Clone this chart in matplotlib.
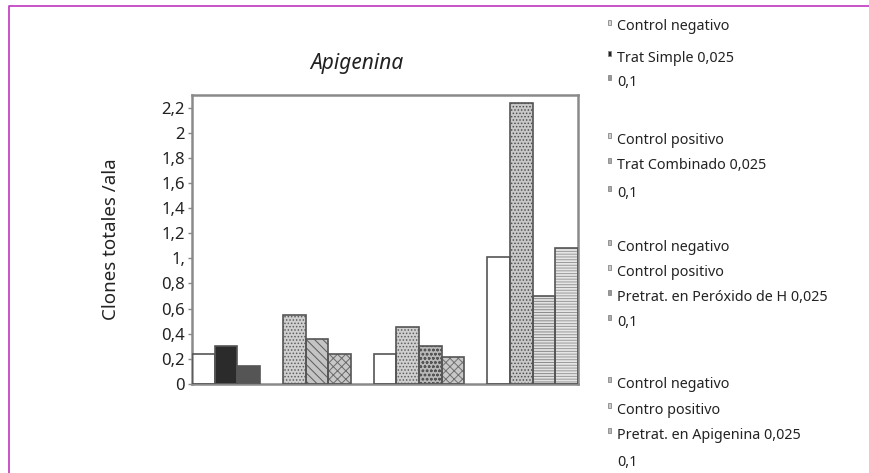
import matplotlib
matplotlib.use("Agg")
import matplotlib.pyplot as plt

plt.rcParams['font.family'] = ['Noto Sans', 'DejaVu Sans']
plt.rcParams['hatch.linewidth'] = 0.7

# Clones totales por ala, por grupo de tratamiento
trat_simple = [0.24, 0.30, 0.145]
trat_combinado = [0.55, 0.36, 0.24]
pretrat_peroxido = [0.24, 0.45, 0.30, 0.215]
pretrat_apigenina = [1.01, 2.24, 0.70, 1.08]

legend_labels = [
    "Control negativo", "Trat Simple 0,025", "0,1",
    "Control positivo", "Trat Combinado 0,025", "0,1",
    "Control negativo", "Control positivo", "Pretrat. en Peróxido de H 0,025", "0,1",
    "Control negativo", "Contro positivo", "Pretrat. en Apigenina 0,025", "0,1",
]

ytick_values = [0, 0.2, 0.4, 0.6, 0.8, 1.0, 1.2, 1.4, 1.6, 1.8, 2.0, 2.2]
ytick_labels = ["0", "0,2", "0,4", "0,6", "0,8", "1,", "1,2", "1,4", "1,6", "1,8", "2", "2,2"]

# fill styles: (facecolor, hatch, hatch colour)
styles = [
    ("white", None, None), ("#2b2b2b", None, None), ("#555555", None, None),
    ("#cfcfcf", ".....", "#5e5e5e"), ("#c4c4c4", "\\\\\\\\", "#5a5a5a"), ("#c8c8c8", "xxxx", "#6a6a6a"),
    ("white", None, None), ("#cfcfcf", ".....", "#5e5e5e"), ("#b8b8b8", "oooo", "#555555"), ("#c8c8c8", "xxxx", "#707070"),
    ("white", None, None), ("#c8c8c8", ".....", "#4e4e4e"), ("#e2e2e2", "------", "#8a8a8a"), ("#e6e6e6", "------", "#9a9a9a"),
]
marker_styles = ["#d8d8d8", "#222222", "#999999", "#d0d0d0", "#aaaaaa", "#aaaaaa",
                 "#bbbbbb", "#cccccc", "#999999", "#aaaaaa", "#bbbbbb", "#cccccc", "#bbbbbb", None]

groups = [trat_simple, trat_combinado, pretrat_peroxido, pretrat_apigenina]

fig = plt.figure(figsize=(8.69, 4.73), dpi=100)
ax = fig.add_axes([192 / 869, 1 - 384 / 473, (578 - 192) / 869, (384 - 95) / 473])

x = []
values = []
pos = 0
for g in groups:
    for v in g:
        x.append(pos)
        values.append(v)
        pos += 1
    pos += 1

edge = "#555555"
for xi, v, (fc, hatch, hc) in zip(x, values, styles):
    if hatch:
        ax.bar(xi, v, width=1.0, color=fc, hatch=hatch, edgecolor=hc, linewidth=0, zorder=2)
    else:
        ax.bar(xi, v, width=1.0, color=fc, linewidth=0, zorder=2)
    ax.bar(xi, v, width=1.0, fill=False, edgecolor=edge, linewidth=1.2, zorder=3)

ax.set_xlim(-0.5, x[-1] + 0.5)
ax.set_ylim(0, 2.30)
ax.set_xticks([])
ax.set_yticks(ytick_values)
ax.set_yticklabels(ytick_labels, fontsize=12, color="#222222")
ax.tick_params(axis="y", length=3, width=1, color="#888888", pad=2)
for s in ax.spines.values():
    s.set_color("#8a8a8a")
    s.set_linewidth(1.8)
ax.set_ylabel("Clones totales /ala", fontsize=13.5, color="#222222", labelpad=30)

# overlay in pixel units for the title, the legend column and the frame
ov = fig.add_axes([0, 0, 1, 1], facecolor="none")
ov.set_xlim(0, 869)
ov.set_ylim(473, 0)
ov.axis("off")
ov.text(357, 63, "Apigenina", fontsize=15, style="italic", ha="center", va="center", color="#222222")

legend_y = [27, 58, 82, 140, 165, 193, 247, 272, 297, 322, 384, 410, 435, 462]
for lbl, ly, mc in zip(legend_labels, legend_y, marker_styles):
    ov.text(617, ly, lbl, fontsize=10.3, ha="left", va="center", color="#222222")
    if mc is not None:
        ov.add_patch(plt.Rectangle((607.5, ly - 7), 3.5, 5, facecolor=mc, edgecolor="#888888", linewidth=0.6))

ov.plot([8.5, 8.5, 869], [473, 6.5, 6.5], color="#c445c4", linewidth=1.3, solid_capstyle="butt")

fig.savefig("out.png", dpi=100)
